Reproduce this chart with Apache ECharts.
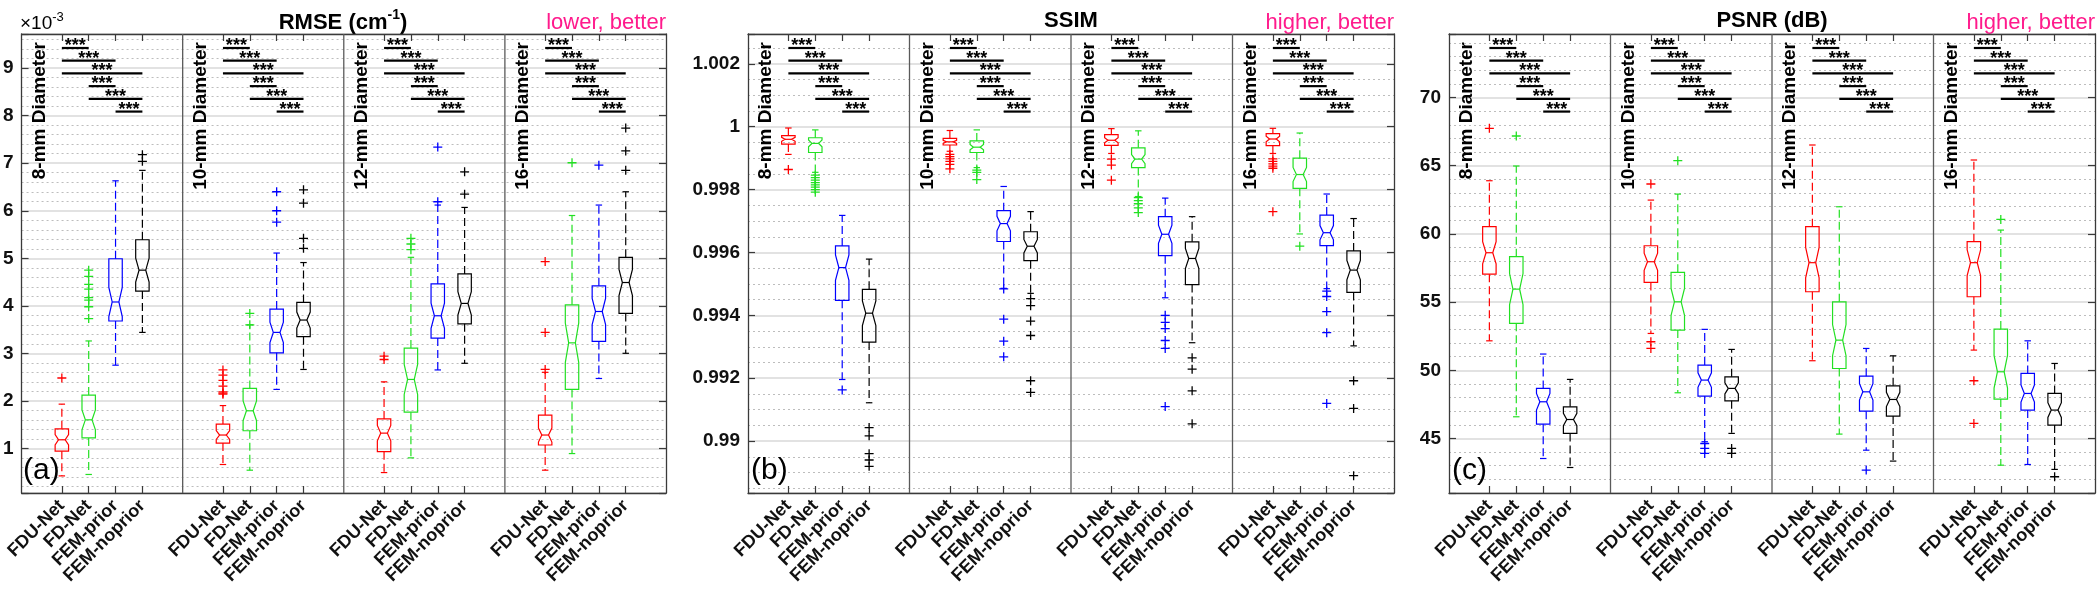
<!DOCTYPE html>
<html><head><meta charset="utf-8">
<script src="https://cdn.jsdelivr.net/npm/echarts@6/dist/echarts.min.js"></script>
<style>html,body{margin:0;padding:0;background:#fff}#c{width:2100px;height:598px}</style>
</head><body><div id="c"></div>
<script>
// ---------------- data ----------------
const methods = ['FDU-Net', 'FD-Net', 'FEM-prior', 'FEM-noprior'];
const diameters = ['8-mm Diameter', '10-mm Diameter', '12-mm Diameter', '16-mm Diameter'];
const methodColors = ['#ff0000', '#22e022', '#0000ff', '#000000'];
const sigPairs = [[0, 1], [0, 2], [0, 3], [1, 2], [1, 3], [2, 3]];
const sigText = '***';
const sampleSize = 45; // used for the notch half-height (MATLAB: 1.57*IQR/sqrt(n))

// rows: [lower whisker, Q1, median, Q3, upper whisker]; 8mm(4 methods), 10mm, 12mm, 16mm
const rmseBoxes = [
  [0.42, 0.94, 1.18, 1.41, 1.93], [0.45, 1.22, 1.60, 2.12, 3.26], [2.75, 3.68, 4.08, 4.99, 6.63], [3.44, 4.31, 4.75, 5.39, 6.85],
  [0.66, 1.11, 1.28, 1.51, 1.90], [0.54, 1.37, 1.79, 2.26, 3.60], [2.24, 3.01, 3.44, 3.93, 5.11], [2.66, 3.35, 3.70, 4.07, 4.91],
  [0.49, 0.93, 1.32, 1.62, 2.40], [0.80, 1.76, 2.45, 3.11, 5.02], [2.65, 3.32, 3.79, 4.46, 6.12], [2.79, 3.62, 4.05, 4.67, 6.07],
  [0.54, 1.07, 1.28, 1.70, 2.60], [0.89, 2.24, 3.22, 4.02, 5.90], [2.47, 3.25, 3.88, 4.42, 6.12], [3.00, 3.84, 4.49, 5.02, 6.40]
];
const rmseOutliers = [
  [2.48], [4.75, 4.62, 4.45, 4.35, 4.17, 4.12, 3.98, 3.73], [], [7.18, 7.04],
  [2.65, 2.54, 2.43, 2.31, 2.19, 2.16, 2.14], [3.84, 3.60], [6.40, 6.00, 5.76], [6.44, 6.16, 5.42, 5.21],
  [2.94, 2.87], [5.42, 5.30, 5.18], [7.34, 6.19], [6.82, 6.35],
  [4.93, 3.44, 2.66], [7.01], [6.96], [7.74, 7.26, 6.85]
];
const ssimBoxes = [
  [0.99912, 0.99945, 0.99960, 0.99972, 0.99996], [0.99855, 0.99918, 0.99947, 0.99965, 0.99990], [0.99196, 0.99448, 0.99552, 0.99621, 0.99718], [0.99122, 0.99315, 0.99407, 0.99483, 0.99579],
  [0.99922, 0.99942, 0.99952, 0.99963, 0.99988], [0.99870, 0.99918, 0.99935, 0.99955, 0.99990], [0.99486, 0.99635, 0.99692, 0.99733, 0.99810], [0.99470, 0.99574, 0.99620, 0.99666, 0.99730],
  [0.99915, 0.99941, 0.99957, 0.99975, 0.99994], [0.99778, 0.99870, 0.99897, 0.99933, 0.99987], [0.99456, 0.99590, 0.99658, 0.99714, 0.99773], [0.99313, 0.99498, 0.99581, 0.99634, 0.99714],
  [0.99915, 0.99940, 0.99961, 0.99978, 0.99995], [0.99659, 0.99804, 0.99848, 0.99900, 0.99980], [0.99485, 0.99622, 0.99663, 0.99719, 0.99786], [0.99303, 0.99473, 0.99544, 0.99605, 0.99708]
];
const ssimOutliers = [
  [0.99864], [0.99846, 0.99838, 0.99830, 0.99822, 0.99815, 0.99808, 0.99800, 0.99792], [0.99163], [0.99043, 0.99017, 0.98960, 0.98940, 0.98920],
  [0.99912, 0.99905, 0.99898, 0.99890, 0.99880, 0.99866], [0.99862, 0.99855, 0.99832], [0.99484, 0.99388, 0.99318, 0.99268], [0.99453, 0.99431, 0.99382, 0.99336, 0.99192, 0.99155],
  [0.99897, 0.99878, 0.99830], [0.99775, 0.99765, 0.99755, 0.99742, 0.99727], [0.99400, 0.99378, 0.99358, 0.99320, 0.99295, 0.99110], [0.99265, 0.99229, 0.99160, 0.99055],
  [0.99898, 0.99890, 0.99882, 0.99875, 0.99868, 0.99730], [0.99620], [0.99477, 0.99460, 0.99412, 0.99345, 0.99120], [0.99192, 0.99104, 0.98890]
];
const psnrBoxes = [
  [52.16, 57.05, 58.62, 60.53, 63.90], [46.59, 53.44, 55.95, 58.33, 64.98], [43.53, 46.05, 47.69, 48.67, 51.19], [42.87, 45.37, 46.39, 47.32, 49.33],
  [52.70, 56.44, 57.96, 59.13, 62.48], [48.35, 52.95, 55.02, 57.18, 62.92], [44.76, 48.11, 49.28, 50.38, 53.00], [45.37, 47.76, 48.67, 49.52, 51.53],
  [50.70, 55.76, 57.89, 60.53, 66.52], [45.32, 50.13, 52.21, 55.02, 61.99], [44.14, 47.00, 48.42, 49.57, 51.60], [43.34, 46.64, 47.86, 48.86, 51.06],
  [51.48, 55.39, 57.89, 59.43, 65.42], [43.04, 47.89, 49.89, 53.02, 60.28], [43.09, 47.08, 48.30, 49.77, 52.16], [42.73, 45.98, 47.08, 48.30, 50.50]
];
const psnrOutliers = [
  [67.74], [67.18], [], [],
  [63.66, 52.09, 51.60], [65.37], [44.63, 44.27, 43.90], [44.27, 43.90],
  [], [], [42.68], [],
  [49.23, 46.10], [61.06], [], [42.19]
];
const yTicksA = {min: 0.06, max: 9.72, split: 10, step: 1, minor: 5, dec: 0};
const yTicksB = {min: 0.98835, max: 1.00295, split: 7, step: 0.002, minor: 4, dec: 3};
const yTicksC = {min: 41.0, max: 74.66, split: 7, step: 5, minor: 5, dec: 0};

// ---------------- layout / style ----------------
const FONT = '"Liberation Sans", Arial, Helvetica, sans-serif';
const AX = '#3a3a3a';
const panels = [
  {boxes: rmseBoxes, outliers: rmseOutliers, y: yTicksA, left: 20, tag: '(a)'},
  {boxes: ssimBoxes, outliers: ssimOutliers, y: yTicksB, left: 748, tag: '(b)'},
  {boxes: psnrBoxes, outliers: psnrOutliers, y: yTicksC, left: 1449, tag: '(c)'}
];
const GRID_TOP = 34, GRID_H = 459, GRID_W = 646;
const SIG_TOP = 0.0305, SIG_STEP = 0.0277, LABEL_TOP = 0.0174;

const categories = [];
diameters.forEach(() => { categories.push('', ...methods, ''); });

const grids = [], xAxes = [], yAxes = [], series = [];

panels.forEach((p, pi) => {
  grids.push({left: p.left, top: GRID_TOP, width: GRID_W, height: GRID_H, containLabel: false});
  [false, true].forEach(top => {
    xAxes.push({
      type: 'category', gridIndex: pi, position: top ? 'top' : 'bottom', data: categories, boundaryGap: true,
      axisLine: {show: true, onZero: false, lineStyle: {color: AX, width: 1.3}},
      axisTick: {show: true, inside: true, alignWithLabel: true, length: 7, interval: (i, v) => v !== '', lineStyle: {color: AX, width: 1.2}},
      axisLabel: {show: !top, interval: 0, rotate: 45, margin: 10, fontSize: 18, fontWeight: 'bold', color: '#111', fontFamily: FONT},
      splitLine: {show: false}
    });
  });
  [false, true].forEach(right => {
    const y = p.y;
    yAxes.push({
      type: 'value', gridIndex: pi, position: right ? 'right' : 'left',
      min: y.min, max: y.max, splitNumber: y.split,
      axisLine: {show: true, onZero: false, lineStyle: {color: AX, width: 1.3}},
      axisTick: {show: true, inside: true, length: 7, lineStyle: {color: AX, width: 1.2}},
      axisLabel: {
        show: !right, margin: 8, fontSize: 19, fontWeight: 'bold', color: '#111', fontFamily: FONT,
        formatter: v => {
          const r = v / y.step;
          if (Math.abs(r - Math.round(r)) > 1e-6) return '';
          return String(parseFloat(v.toFixed(y.dec)));
        }
      },
      splitLine: {show: !right, lineStyle: {color: '#d8d8d8', width: 1.6}},
      minorTick: {show: false, splitNumber: y.minor},
      minorSplitLine: {show: !right, lineStyle: {color: '#bdbdbd', width: 1, type: [2, 3]}}
    });
  });
  const xi = 2 * pi, yi = 2 * pi;
  const span = p.y.max - p.y.min;

  // group dividers
  series.push({
    type: 'custom', xAxisIndex: xi, yAxisIndex: yi, silent: true, z: 3,
    data: [[5, p.y.min, p.y.max], [11, p.y.min, p.y.max], [17, p.y.min, p.y.max]],
    encode: {x: 0, y: [1, 2]},
    renderItem: (params, api) => {
      const bw = api.size([1, 0])[0];
      const a = api.coord([api.value(0), api.value(1)]);
      const b = api.coord([api.value(0), api.value(2)]);
      const x = a[0] + bw / 2;
      return {type: 'line', shape: {x1: x, y1: a[1], x2: x, y2: b[1]}, style: {stroke: '#5a5a5a', lineWidth: 1.3}};
    }
  });

  // notched boxes
  const k = 1.57 / Math.sqrt(sampleSize);
  const boxData = p.boxes.map((b, i) => {
    const g = Math.floor(i / 4), m = i % 4, iqr = b[3] - b[1];
    return [6 * g + 1 + m, b[0], b[1], b[2], b[3], b[4], b[2] - k * iqr, b[2] + k * iqr, m];
  });
  series.push({
    type: 'custom', xAxisIndex: xi, yAxisIndex: yi, silent: true, z: 5,
    data: boxData, encode: {x: 0, y: [1, 2, 3, 4, 5]},
    renderItem: (params, api) => {
      const v = i => api.value(i);
      const bw = api.size([1, 0])[0];
      const hw = bw * 0.25, nw = hw * 0.5, cw = bw * 0.12;
      const cx = api.coord([v(0), v(3)])[0];
      const Y = val => api.coord([v(0), val])[1];
      const col = methodColors[v(8)];
      const st = {stroke: col, lineWidth: 1.2, fill: 'none'};
      const pts = [[cx - hw, Y(v(2))], [cx + hw, Y(v(2))], [cx + hw, Y(v(6))], [cx + nw, Y(v(3))], [cx + hw, Y(v(7))],
        [cx + hw, Y(v(4))], [cx - hw, Y(v(4))], [cx - hw, Y(v(7))], [cx - nw, Y(v(3))], [cx - hw, Y(v(6))]];
      return {type: 'group', children: [
        {type: 'line', shape: {x1: cx, y1: Y(v(4)), x2: cx, y2: Y(v(5))}, style: Object.assign({}, st, {lineDash: [8, 4]})},
        {type: 'line', shape: {x1: cx, y1: Y(v(2)), x2: cx, y2: Y(v(1))}, style: Object.assign({}, st, {lineDash: [8, 4]})},
        {type: 'line', shape: {x1: cx - cw, y1: Y(v(5)), x2: cx + cw, y2: Y(v(5))}, style: st},
        {type: 'line', shape: {x1: cx - cw, y1: Y(v(1)), x2: cx + cw, y2: Y(v(1))}, style: st},
        {type: 'polygon', shape: {points: pts}, style: st},
        {type: 'line', shape: {x1: cx - nw, y1: Y(v(3)), x2: cx + nw, y2: Y(v(3))}, style: st}
      ]};
    }
  });

  // outliers
  const outData = [];
  p.outliers.forEach((arr, i) => {
    const g = Math.floor(i / 4), m = i % 4;
    arr.forEach(val => outData.push({value: [6 * g + 1 + m, val], itemStyle: {borderColor: methodColors[m]}}));
  });
  series.push({
    type: 'scatter', xAxisIndex: xi, yAxisIndex: yi, silent: true, z: 6,
    symbol: 'path://M0,5L10,5M5,0L5,10', symbolSize: 9,
    itemStyle: {color: 'rgba(0,0,0,0)', borderWidth: 1.3, opacity: 1},
    data: outData
  });

  // significance bars (lines)
  const sigData = [];
  diameters.forEach((d, g) => {
    sigPairs.forEach((pr, r) => {
      sigData.push([6 * g + 1 + pr[0], 6 * g + 1 + pr[1], p.y.max - (SIG_TOP + r * SIG_STEP) * span]);
    });
  });
  p.sigData = sigData;
  series.push({
    type: 'custom', xAxisIndex: xi, yAxisIndex: yi, silent: true, z: 7,
    data: sigData, encode: {x: [0, 1], y: 2},
    renderItem: (params, api) => {
      const a = api.coord([api.value(0), api.value(2)]);
      const b = api.coord([api.value(1), api.value(2)]);
      return {type: 'line', shape: {x1: a[0], y1: a[1], x2: b[0], y2: b[1]}, style: {stroke: '#000', lineWidth: 2.2}};
    }
  });
});

const chart = echarts.init(document.getElementById('c'), null, {renderer: 'canvas', width: 2100, height: 598});
chart.setOption({
  backgroundColor: '#ffffff',
  animation: false,
  grid: grids, xAxis: xAxes, yAxis: yAxes, series: series
});

// ---------------- text annotations (positioned through the axes) ----------------
const supRich = (big, small, weight) => ({
  t: {fontSize: big, fontWeight: weight, fontFamily: FONT, fill: '#000', lineHeight: big + 4, verticalAlign: 'bottom'},
  s: {fontSize: small, fontWeight: weight, fontFamily: FONT, fill: '#000', lineHeight: big + 4, verticalAlign: 'top'}
});
const graphics = [
  {type: 'text', x: 343, y: 21, style: {text: '{t|RMSE (cm}{s|-1}{t|)}', rich: supRich(22, 14, 'bold'), align: 'center', verticalAlign: 'middle'}},
  {type: 'text', x: 1071, y: 21, style: {text: 'SSIM', fontSize: 22, fontWeight: 'bold', fontFamily: FONT, fill: '#000', align: 'center', verticalAlign: 'middle'}},
  {type: 'text', x: 1772, y: 21, style: {text: 'PSNR (dB)', fontSize: 22, fontWeight: 'bold', fontFamily: FONT, fill: '#000', align: 'center', verticalAlign: 'middle'}},
  {type: 'text', x: 666, y: 23, style: {text: 'lower, better', fontSize: 22, fontFamily: FONT, fill: '#ff1a8c', align: 'right', verticalAlign: 'middle'}},
  {type: 'text', x: 1394, y: 23, style: {text: 'higher, better', fontSize: 22, fontFamily: FONT, fill: '#ff1a8c', align: 'right', verticalAlign: 'middle'}},
  {type: 'text', x: 2095, y: 23, style: {text: 'higher, better', fontSize: 22, fontFamily: FONT, fill: '#ff1a8c', align: 'right', verticalAlign: 'middle'}},
  {type: 'text', x: 20, y: 22, style: {text: '{t|\u00d710}{s|-3}', rich: supRich(19, 13, 'normal'), align: 'left', verticalAlign: 'middle'}}
];
panels.forEach((p, pi) => {
  const finder = {xAxisIndex: 2 * pi, yAxisIndex: 2 * pi};
  const span = p.y.max - p.y.min;
  const bw = chart.convertToPixel(finder, [1, p.y.max])[0] - chart.convertToPixel(finder, [0, p.y.max])[0];
  // stars above significance bars
  p.sigData.forEach(s => {
    const a = chart.convertToPixel(finder, [s[0], s[2]]);
    const b = chart.convertToPixel(finder, [s[1], s[2]]);
    graphics.push({type: 'text', x: (a[0] + b[0]) / 2, y: a[1] - 2, z: 20,
      style: {text: sigText, fontSize: 18, fontWeight: 'bold', fontFamily: FONT, fill: '#000', align: 'center', verticalAlign: 'middle'}});
  });
  // diameter labels
  diameters.forEach((d, g) => {
    const c = chart.convertToPixel(finder, [6 * g, p.y.max - LABEL_TOP * span]);
    graphics.push({type: 'text', x: c[0] + 0.17 * bw, y: c[1], rotation: Math.PI / 2, z: 20,
      style: {text: d, fontSize: 19, fontWeight: 'bold', fontFamily: FONT, fill: '#000', align: 'right', verticalAlign: 'middle'}});
  });
  graphics.push({type: 'text', x: p.left + 3, y: 471, z: 20, style: {text: p.tag, fontSize: 30, fontFamily: FONT, fill: '#000', align: 'left', verticalAlign: 'middle'}});
});
chart.setOption({graphic: graphics});
</script>
</body></html>
